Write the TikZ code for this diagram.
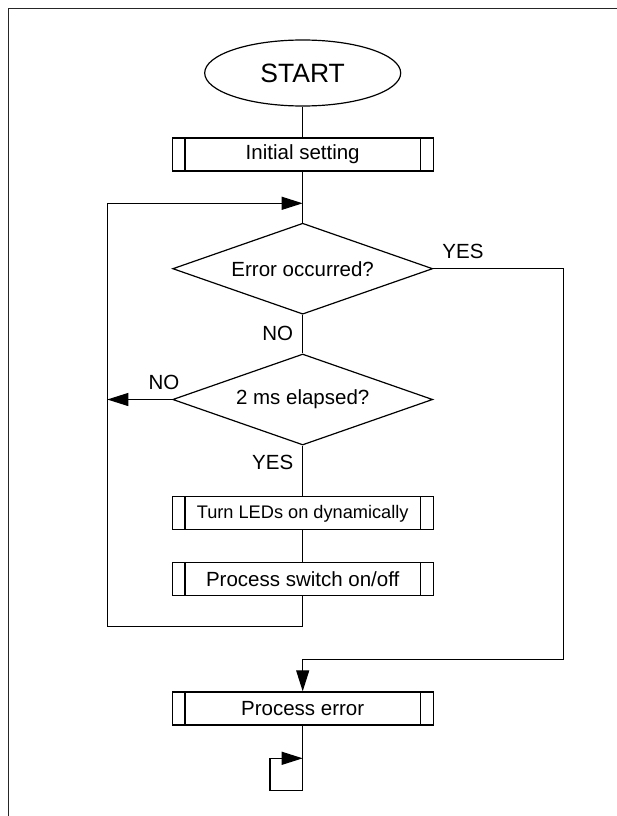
\documentclass[tikz,border=0pt]{standalone}
\usepackage{fontspec}
\setmainfont{Liberation Sans}
\usetikzlibrary{shapes.geometric,arrows.meta}

\tikzset{
  base/.style={draw, line width=1.2pt, inner sep=0pt, font=\fontsize{20.5}{24}\selectfont},
  terminal/.style={base, ellipse, minimum width=196pt, minimum height=66pt,
                   font=\fontsize{26.5}{30}\selectfont},
  subproc/.style={base, rectangle, minimum width=261pt, minimum height=33pt,
    path picture={
      \draw[line width=1.2pt]
        ([xshift=12.7pt]path picture bounding box.north west) --
        ([xshift=12.7pt]path picture bounding box.south west)
        ([xshift=-12.7pt]path picture bounding box.north east) --
        ([xshift=-12.7pt]path picture bounding box.south east);}},
  decision/.style={base, diamond, shape aspect=2.857, minimum width=260pt, minimum height=91pt},
  flow/.style={line width=1.2pt},
  arr/.style={flow, -{Triangle[length=21pt,width=13pt]}},
  lbl/.style={font=\fontsize{20.5}{24}\selectfont, inner sep=0pt},
}

\begin{document}
\begin{tikzpicture}[x=1pt, y=-1pt]
  \useasboundingbox (0,0) rectangle (617,816);

  % frame edges
  \draw[line width=1.4pt, black!85] (617,8.3) -- (8.7,8.3) -- (8.7,816);

  % nodes of the main column
  \node[terminal] (start) at (302.7,73) {START};
  \node[subproc]  (init)  at (302.7,154.5) {Initial setting};
  \node[decision] (err)   at (302.7,268.7) {Error occurred?};
  \node[decision] (tm)    at (302.7,399.5) {2 ms elapsed?};
  \node[subproc, font=\fontsize{18.2}{22}\selectfont] (led) at (302.7,513.3) {Turn LEDs on dynamically};
  \node[subproc]  (sw)    at (302.7,578.7) {Process switch on/off};
  \node[subproc]  (perr)  at (302.7,708.4) {Process error};

  % branch points and corners
  \coordinate (join)  at (302.7,203.3);
  \coordinate (loopb) at (302.7,626.7);
  \coordinate (loopl) at (107.3,626.7);
  \coordinate (loopt) at (107.3,203.3);
  \coordinate (yr1)   at (563.3,268.7);
  \coordinate (yr2)   at (563.3,659.7);
  \coordinate (yr3)   at (302.7,659.7);
  \coordinate (h1)    at (302.7,790.7);
  \coordinate (h2)    at (270,790.7);
  \coordinate (h3)    at (270,758.3);
  \coordinate (h4)    at (302.7,758.3);

  % connectors
  \draw[flow] (start) -- (init);
  \draw[flow] (init) -- (err);
  \draw[flow] (err) -- (tm);
  \draw[flow] (tm) -- (led);
  \draw[flow] (led) -- (sw);
  \draw[arr] (sw.south) -- (loopb) -- (loopl) -- (loopt) -- (join);
  \draw[arr] (tm.west) -- (tm.west -| loopt);
  \draw[arr] (err.east) -- (yr1) -- (yr2) -- (yr3) -- (perr.north);
  \draw[arr] (perr.south) -- (h1) -- (h2) -- (h3) -- (h4);

  % branch labels
  \node[lbl] (lyes1) at (463,251.5) {YES};
  \node[lbl] (lno1)  at (277.7,333.3) {NO};
  \node[lbl] (lno2)  at (164,382.3) {NO};
  \node[lbl] (lyes2) at (272.7,462.5) {YES};
\end{tikzpicture}
\end{document}
